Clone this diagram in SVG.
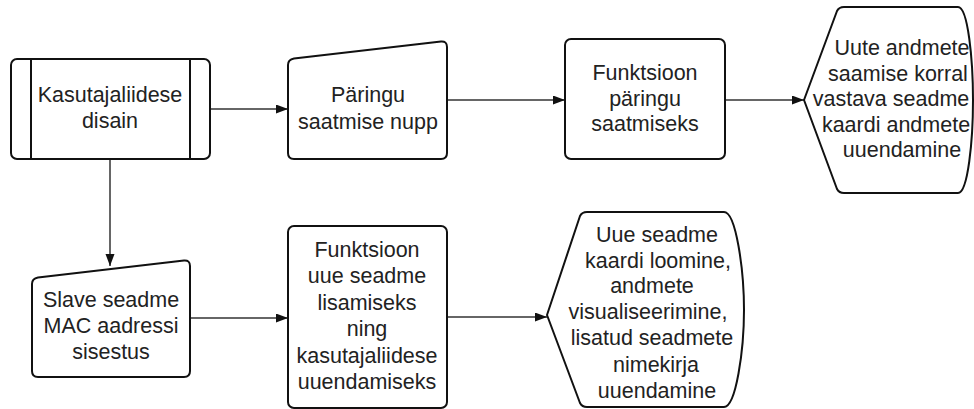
<svg xmlns="http://www.w3.org/2000/svg" width="974" height="409" viewBox="0 0 974 409">
<style>
.shape{fill:#fff;stroke:#111;stroke-width:2;stroke-linejoin:round}
.conn{fill:none;stroke:#333;stroke-width:1.5}
text{font-family:"Liberation Sans",Arial,sans-serif;font-size:21.5px;fill:#222;text-anchor:middle}
</style>
<defs>
<marker id="arr" markerUnits="userSpaceOnUse" markerWidth="13" markerHeight="10" refX="12" refY="4.5" orient="auto">
<path d="M0,0 L12,4.5 L0,9 Z" fill="#111"/>
</marker>
</defs>
<rect width="974" height="409" fill="#fff"/>
<g id="connectors">
<path class="conn" d="M210,109 L288,109" marker-end="url(#arr)"/>
<path class="conn" d="M447,100 L565,100" marker-end="url(#arr)"/>
<path class="conn" d="M725,100 L804,100" marker-end="url(#arr)"/>
<path class="conn" d="M110,159 L110,266" marker-end="url(#arr)"/>
<path class="conn" d="M190,318 L288,318" marker-end="url(#arr)"/>
<path class="conn" d="M447,317 L547,317" marker-end="url(#arr)"/>
</g>
<g id="node-kasutajaliidese-disain">
<rect class="shape" x="11" y="59" width="199" height="100" rx="6"/>
<line x1="31" y1="59" x2="31" y2="159" stroke="#111" stroke-width="2"/>
<line x1="190" y1="59" x2="190" y2="159" stroke="#111" stroke-width="2"/>
<text x="110" y="102">Kasutajaliidese</text>
<text x="110" y="127.5">disain</text>
</g>
<g id="node-paringu-saatmise-nupp">
<path class="shape" d="M288,65 Q288,59.5 294,58.5 L441,41.5 Q447,41 447,47 L447,153 Q447,159 441,159 L294,159 Q288,159 288,153 Z"/>
<text x="368" y="102">Päringu</text>
<text x="368" y="129">saatmise nupp</text>
</g>
<g id="node-funktsioon-paringu">
<rect class="shape" x="565" y="39" width="160" height="120" rx="6"/>
<text x="645" y="80">Funktsioon</text>
<text x="645" y="105.5">päringu</text>
<text x="645" y="131">saatmiseks</text>
</g>
<g id="node-uute-andmete">
<path class="shape" d="M804,100 L837,11 Q839,7 844,7 L958,7 C968,7 973,60 973,100 C973,140 968,193 958,193 L844,193 Q839,193 837,189 Z"/>
<text x="902" y="55">Uute andmete</text>
<text x="898" y="81">saamise korral</text>
<text x="891" y="106">vastava seadme</text>
<text x="896" y="131.5">kaardi andmete</text>
<text x="902" y="157">uuendamine</text>
</g>
<g id="node-slave-mac">
<path class="shape" d="M32,284 Q32,278.5 38,277.5 L184,260.5 Q190,260 190,266 L190,371 Q190,377 184,377 L38,377 Q32,377 32,371 Z"/>
<text x="111" y="307">Slave seadme</text>
<text x="111" y="333">MAC aadressi</text>
<text x="111" y="359">sisestus</text>
</g>
<g id="node-funktsioon-uue-seadme">
<rect class="shape" x="288" y="226" width="159" height="182" rx="6"/>
<text x="367" y="257">Funktsioon</text>
<text x="367" y="283">uue seadme</text>
<text x="367" y="309.5">lisamiseks</text>
<text x="367" y="336">ning</text>
<text x="367" y="362.5">kasutajaliidese</text>
<text x="367" y="389">uuendamiseks</text>
</g>
<g id="node-uue-seadme-kaardi">
<path class="shape" d="M547,315 L580,216 Q582,212 587,212 L724,212 C736,212 744,270 744,310 C744,350 736,407 724,407 L587,407 Q582,407 580,403 Z"/>
<text x="657" y="242">Uue seadme</text>
<text x="658" y="267.5">kaardi loomine,</text>
<text x="652" y="293">andmete </text>
<text x="648" y="318.5">visualiseerimine,</text>
<text x="652" y="345">lisatud seadmete</text>
<text x="656" y="371.5">nimekirja</text>
<text x="657" y="397.5">uuendamine</text>
</g>
</svg>
